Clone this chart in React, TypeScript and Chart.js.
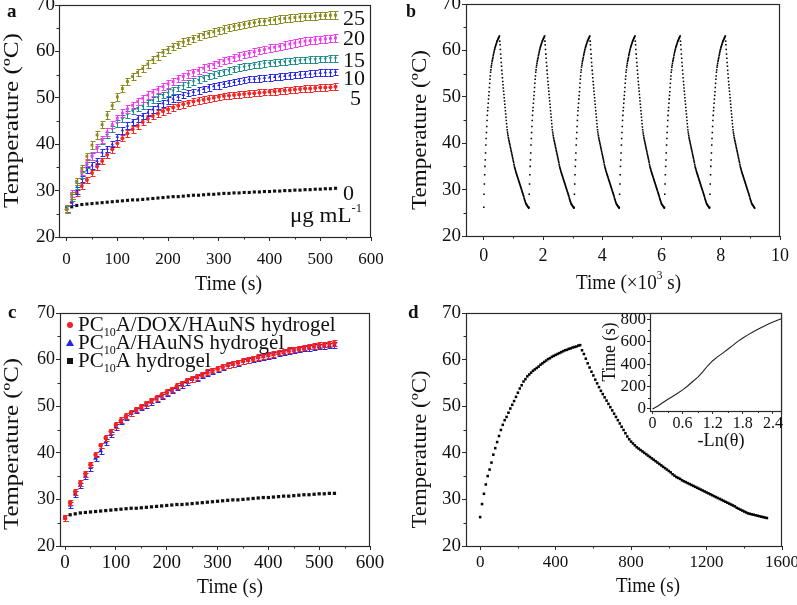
import React, { useEffect, useRef } from 'react';
import { Chart, registerables } from 'chart.js';

Chart.register(...registerables);

const FONT = "'Liberation Serif', 'Times New Roman', Times, serif";
const INK = '#111111';
const FRAME = '#2b2b2b';

// ---------------- tick values ----------------
const tempTicks = [20, 30, 40, 50, 60, 70];
const timeTicksAC = [0, 100, 200, 300, 400, 500, 600];
const timeTicksB = [0, 2, 4, 6, 8, 10];
const timeTicksD = [0, 400, 800, 1200, 1600];
const insetXTicks = [0, 0.6, 1.2, 1.8, 2.4];
const insetYTicks = [0, 200, 400, 600, 800];

// ---------------- Panel a : heating curves at several concentrations ----------------
const timesA = [0,10,20,30,40,50,60,70,80,90,100,110,120,130,140,150,160,170,180,190,200,210,220,230,240,250,260,270,280,290,300,310,320,330,340,350,360,370,380,390,400,410,420,430,440,450,460,470,480,490,500,510,520,530];
const concLabelsA = ['25', '20', '15', '10', '5', '0'];
const tempA25 = [26.0,29.0,32.0,34.8,37.4,39.8,42.0,44.2,46.3,48.3,50.2,52.0,53.5,54.6,55.5,56.3,57.3,58.2,59.0,59.8,60.4,61.0,61.5,62.0,62.4,62.8,63.2,63.6,63.9,64.2,64.5,64.8,65.1,65.4,65.6,65.8,66.0,66.2,66.4,66.5,66.7,66.8,67.0,67.1,67.2,67.3,67.4,67.5,67.5,67.6,67.7,67.7,67.8,67.8];
const tempA20 = [26.0,29.4,31.9,34.2,36.0,37.5,39.2,41.0,42.6,44.2,45.6,46.7,47.6,48.4,49.2,49.9,50.6,51.2,51.8,52.4,53.0,53.5,54.1,54.6,55.1,55.5,55.9,56.4,56.8,57.2,57.6,58.0,58.3,58.7,59.0,59.3,59.6,59.9,60.2,60.4,60.7,60.9,61.1,61.4,61.6,61.8,62.0,62.2,62.3,62.5,62.6,62.7,62.8,62.9];
const tempA15 = [26.0,28.5,31.0,33.5,35.5,37.3,39.0,40.7,42.0,43.3,44.5,45.5,46.4,47.2,47.8,48.3,48.9,49.5,50.1,50.6,51.1,51.6,52.1,52.6,53.1,53.5,53.9,54.3,54.7,55.0,55.3,55.6,55.9,56.2,56.5,56.7,56.9,57.1,57.2,57.4,57.5,57.6,57.7,57.8,57.9,58.0,58.1,58.2,58.3,58.3,58.4,58.4,58.5,58.5];
const tempA10 = [26.0,27.5,30.0,32.5,34.4,35.4,36.4,38.2,39.0,40.0,41.6,43.0,44.0,44.8,45.5,46.1,46.8,47.5,48.2,48.8,49.4,49.8,50.2,50.6,51.0,51.3,51.6,51.9,52.2,52.5,52.7,53.0,53.2,53.4,53.6,53.8,54.0,54.1,54.2,54.3,54.4,54.5,54.6,54.7,54.8,54.9,55.0,55.1,55.2,55.3,55.4,55.5,55.5,55.6];
const tempA5 = [26.0,27.5,29.5,31.0,32.3,33.8,35.2,36.4,37.7,38.9,40.2,41.3,42.3,43.2,44.0,44.8,45.5,46.1,46.6,47.1,47.5,47.9,48.3,48.6,48.9,49.2,49.4,49.6,49.8,50.0,50.2,50.4,50.5,50.6,50.7,50.8,50.9,51.0,51.1,51.2,51.3,51.4,51.5,51.6,51.7,51.8,51.9,52.0,52.0,52.1,52.2,52.2,52.3,52.4];
const tempA0 = [26.2,26.5,26.8,27.0,27.1,27.2,27.3,27.4,27.5,27.6,27.7,27.8,27.9,28.0,28.0,28.1,28.2,28.3,28.4,28.5,28.6,28.7,28.7,28.8,28.9,29.0,29.0,29.1,29.2,29.2,29.3,29.4,29.4,29.5,29.5,29.6,29.6,29.7,29.7,29.8,29.8,29.9,29.9,30.0,30.0,30.1,30.1,30.2,30.2,30.3,30.3,30.4,30.4,30.5];
const errorsA = [0.8, 0.8, 0.7, 0.7, 0.7, 0];

// ---------------- Panel c : three hydrogels ----------------
const timesC = timesA;
const legendC = ['PC10A/DOX/HAuNS hydrogel', 'PC10A/HAuNS hydrogel', 'PC10A hydrogel'];
const tempCDox = [26.0,29.3,31.6,33.5,35.5,37.5,39.6,41.6,43.2,44.6,46.0,47.0,47.9,48.6,49.3,49.9,50.6,51.2,51.8,52.4,53.0,53.6,54.3,54.9,55.5,55.9,56.3,56.8,57.3,57.7,58.1,58.5,58.8,59.1,59.4,59.7,59.9,60.2,60.5,60.8,61.0,61.2,61.5,61.7,62.0,62.2,62.4,62.6,62.8,62.9,63.1,63.2,63.4,63.5];
const tempCHau = [26.0,28.8,31.2,33.0,35.0,36.8,38.8,40.4,42.3,43.9,45.6,46.7,47.6,48.4,49.1,49.7,50.3,50.9,51.5,52.1,52.8,53.4,54.0,54.6,55.2,55.7,56.1,56.6,57.1,57.5,58.0,58.4,58.7,59.0,59.3,59.6,59.8,60.1,60.4,60.6,60.8,61.0,61.3,61.5,61.8,62.0,62.2,62.4,62.5,62.7,62.8,62.9,63.0,63.1];
const tempCGel = [26.2,26.7,26.9,27.1,27.2,27.3,27.4,27.5,27.6,27.7,27.8,27.9,28.0,28.1,28.1,28.2,28.3,28.4,28.5,28.6,28.7,28.8,28.9,28.9,29.0,29.1,29.2,29.3,29.4,29.5,29.6,29.7,29.8,29.9,29.9,30.0,30.1,30.2,30.3,30.4,30.4,30.5,30.6,30.7,30.7,30.8,30.9,31.0,31.0,31.1,31.2,31.2,31.3,31.3];
const errorsC = [0.6, 0.6, 0];

// ---------------- Panel d : one heating / cooling cycle (10 s sampling) ----------------
const sampleStepD = 10;
const heatTempsD = [26.2,29.0,31.2,33.2,35.0,36.4,37.9,39.6,41.0,42.3,43.6,44.9,46.0,47.0,47.7,48.6,49.5,50.3,51.1,52.0,52.9,53.8,54.5,55.3,55.8,56.4,56.8,57.2,57.6,57.9,58.2,58.5,58.9,59.2,59.5,59.8,60.1,60.3,60.6,60.8,61.0,61.2,61.4,61.6,61.8,62.0,62.1,62.3,62.4,62.6,62.7,62.8,63.0,63.1];
const coolTempsD = [62.0,61.2,60.2,59.2,58.3,57.4,56.6,55.7,54.9,54.1,53.3,52.6,51.9,51.2,50.5,49.8,49.1,48.4,47.7,47.0,46.3,45.6,44.9,44.2,43.5,42.9,42.4,42.0,41.6,41.2,40.9,40.6,40.3,40.0,39.7,39.4,39.1,38.8,38.5,38.2,37.9,37.6,37.3,37.0,36.7,36.4,36.1,35.8,35.4,35.1,34.8,34.6,34.4,34.1,33.9,33.7,33.5,33.3,33.1,32.9,32.7,32.5,32.3,32.1,31.9,31.7,31.5,31.3,31.1,30.9,30.7,30.5,30.3,30.1,29.9,29.7,29.5,29.3,29.1,28.9,28.7,28.5,28.2,28.0,27.8,27.6,27.4,27.2,27.0,26.9,26.8,26.7,26.6,26.5,26.4,26.3,26.2,26.1,26.0];

// inset of d : time vs -ln(theta)
const insetLnTheta = [0,0.1,0.2,0.3,0.4,0.5,0.6,0.7,0.8,0.9,1.0,1.1,1.2,1.3,1.4,1.5,1.6,1.7,1.8,1.9,2.0,2.1,2.2,2.3,2.4,2.5,2.57];
const insetTime = [0,25,55,85,112,140,170,205,245,282,330,385,430,466,498,532,567,602,632,660,686,710,732,754,774,792,804];

// ---------------- Panel b : six on/off cycles (x in 10^3 s) ----------------
const cycleStartsB = [0, 1.525, 3.05, 4.575, 6.1, 7.625];

// ---------------- derived tables ----------------
const cycleTempsD = [...heatTempsD, ...coolTempsD];
const pointsD = cycleTempsD.map((v, i) => ({ x: i * sampleStepD, y: v }));
const pointsB = cycleStartsB.flatMap((s) => cycleTempsD.map((v, i) => ({ x: s + (i * sampleStepD) / 1000, y: v })));
const xy = (xs: number[], ys: number[]) => ys.map((v, i) => ({ x: xs[i], y: v }));

type Part = { t: string; s: number; dy?: number; bold?: boolean };
type TextSpec = { parts: Part[]; x: number; y: number; align?: 'left' | 'center'; rot?: boolean; width?: number };

const fontOf = (p: Part) => `${p.bold ? 'bold ' : ''}${p.s}px ${FONT}`;

function drawRich(ctx: CanvasRenderingContext2D, spec: TextSpec, ox: number, oy: number) {
  ctx.save();
  ctx.fillStyle = INK;
  ctx.textBaseline = 'alphabetic';
  ctx.textAlign = 'left';
  const widths = spec.parts.map((p) => {
    ctx.font = fontOf(p);
    return ctx.measureText(p.t).width;
  });
  const total = widths.reduce((a, b) => a + b, 0);
  const sx = spec.width ? spec.width / total : 1;
  ctx.translate(spec.x - ox, spec.y - oy);
  if (spec.rot) ctx.rotate(-Math.PI / 2);
  ctx.scale(sx, 1);
  let cx = spec.align === 'center' ? -total / 2 : 0;
  spec.parts.forEach((p, i) => {
    ctx.font = fontOf(p);
    ctx.fillText(p.t, cx, p.dy || 0);
    cx += widths[i];
  });
  ctx.restore();
}

function drawMarker(ctx: CanvasRenderingContext2D, style: string, x: number, y: number, color: string) {
  ctx.save();
  ctx.fillStyle = color;
  ctx.beginPath();
  if (style === 'circle') ctx.arc(x, y, 3, 0, Math.PI * 2);
  else if (style === 'triangle') {
    ctx.moveTo(x, y - 4);
    ctx.lineTo(x + 4, y + 3);
    ctx.lineTo(x - 4, y + 3);
    ctx.closePath();
  } else ctx.rect(x - 3, y - 3, 6, 6);
  ctx.fill();
  ctx.restore();
}

type Panel = {
  x: number; y: number; w: number; h: number;
  area: { l: number; t: number; r: number; b: number };
  xr: [number, number]; yr: [number, number];
  xTicks: number[]; yTicks: number[];
  xFont: number; yFont: number; xPad: number; yPad: number;
  tick: number; minor: number;
  datasets: any[];
  texts: TextSpec[];
  legend?: { y: number; style: string; color: string; label: string }[];
  white?: boolean;
};

function splitSub(label: string): Part[] {
  const m = label.match(/^(PC)(10)(.*)$/);
  if (!m) return [{ t: label, s: 21 }];
  return [{ t: m[1], s: 21 }, { t: m[2], s: 12, dy: 5 }, { t: m[3], s: 21 }];
}

function decoPlugin(p: Panel) {
  return {
    id: 'deco',
    beforeDraw(chart: any) {
      if (!p.white) return;
      const a = chart.chartArea;
      const ctx = chart.ctx;
      ctx.save();
      ctx.fillStyle = '#ffffff';
      ctx.fillRect(a.left, a.top, a.right - a.left, a.bottom - a.top);
      ctx.restore();
    },
    beforeDatasetDraw(chart: any, args: any) {
      const ds = chart.data.datasets[args.index];
      if (!ds.errors) return;
      const ctx = chart.ctx;
      const ys = chart.scales.y;
      ctx.save();
      ctx.strokeStyle = ds.backgroundColor;
      ctx.lineWidth = 1;
      const cap = 2;
      args.meta.data.forEach((pt: any, j: number) => {
        const v = ds.data[j].y;
        const top = Math.round(ys.getPixelForValue(v + ds.errors)) + 0.5;
        const bot = Math.round(ys.getPixelForValue(v - ds.errors)) + 0.5;
        const x = Math.round(pt.x) + 0.5;
        ctx.beginPath();
        ctx.moveTo(x, top); ctx.lineTo(x, bot);
        ctx.moveTo(x - cap, top); ctx.lineTo(x + cap + 1, top);
        ctx.moveTo(x - cap, bot); ctx.lineTo(x + cap + 1, bot);
        ctx.stroke();
      });
      ctx.restore();
    },
    afterDraw(chart: any) {
      const ctx = chart.ctx as CanvasRenderingContext2D;
      const a = chart.chartArea;
      ctx.save();
      ctx.strokeStyle = FRAME;
      ctx.lineWidth = 1.2;
      ctx.strokeRect(Math.round(a.left) + 0.5, Math.round(a.top) + 0.5, Math.round(a.right - a.left) - 1, Math.round(a.bottom - a.top));
      // minor ticks halfway between labelled ticks
      ctx.lineWidth = 1;
      const xs = chart.scales.x, ys = chart.scales.y;
      const mids = (v: number[]) => {
        const out: number[] = [];
        for (let i = 0; i < v.length - 1; i++) out.push((v[i] + v[i + 1]) / 2);
        return out;
      };
      ctx.beginPath();
      mids(p.xTicks).forEach((m) => {
        const px = Math.round(xs.getPixelForValue(m)) + 0.5;
        ctx.moveTo(px, a.bottom); ctx.lineTo(px, a.bottom + p.minor);
      });
      mids(p.yTicks).forEach((m) => {
        const py = Math.round(ys.getPixelForValue(m)) + 0.5;
        ctx.moveTo(a.left, py); ctx.lineTo(a.left - p.minor, py);
      });
      ctx.stroke();
      ctx.restore();
      p.texts.forEach((t) => drawRich(ctx, t, p.x, p.y));
      if (p.legend) {
        p.legend.forEach((e) => {
          drawMarker(ctx, e.style, 70 - p.x, e.y - 6 - p.y, e.color);
          drawRich(ctx, { parts: splitSub(e.label), x: 78, y: e.y }, p.x, p.y);
        });
      }
    },
  };
}

function buildConfig(p: Panel): any {
  const padTop = p.area.t - p.y;
  const padRight = p.x + p.w - p.area.r;
  const yw = p.area.l - p.x;
  const xh = p.y + p.h - p.area.b;
  const grid = { display: true, drawOnChartArea: false, drawTicks: true, tickLength: p.tick, color: FRAME, lineWidth: 1 };
  return {
    type: 'scatter',
    data: { datasets: p.datasets },
    options: {
      responsive: false,
      animation: false,
      events: [],
      layout: { padding: { top: padTop, right: padRight, left: 0, bottom: 0 } },
      plugins: { legend: { display: false }, tooltip: { enabled: false } },
      scales: {
        x: {
          type: 'linear', min: p.xr[0], max: p.xr[1],
          afterBuildTicks: (s: any) => { s.ticks = p.xTicks.map((v) => ({ value: v })); },
          afterFit: (s: any) => { s.height = xh; s.paddingLeft = 0; s.paddingRight = 0; },
          ticks: { autoSkip: false, maxRotation: 0, minRotation: 0, padding: p.xPad, color: INK, font: { family: FONT, size: p.xFont }, callback: (v: any) => String(v) },
          grid, border: { display: false },
        },
        y: {
          type: 'linear', min: p.yr[0], max: p.yr[1],
          afterBuildTicks: (s: any) => { s.ticks = p.yTicks.map((v) => ({ value: v })); },
          afterFit: (s: any) => { s.width = yw; s.paddingTop = 0; s.paddingBottom = 0; },
          ticks: { autoSkip: false, padding: p.yPad, color: INK, font: { family: FONT, size: p.yFont }, callback: (v: any) => String(v) },
          grid, border: { display: false },
        },
      },
    },
    plugins: [decoPlugin(p)],
  };
}

const colA = ['#8a8a1e', '#ee3cee', '#1e8c8c', '#2a2aee', '#f02828', '#111111'];
const stylesA = ['rect', 'rect', 'triangle', 'triangle', 'circle', 'rect'];
const seriesA = [tempA25, tempA20, tempA15, tempA10, tempA5, tempA0];
const colC = ['#f52020', '#2424e6', '#111111'];
const stylesC = ['circle', 'triangle', 'rect'];
const seriesC = [tempCDox, tempCHau, tempCGel];

const yTitle = (x: number, y: number, width: number): TextSpec => ({ parts: [{ t: 'Temperature (ºC)', s: 22 }], x, y, rot: true, align: 'center', width });

const PANELS: Panel[] = [
  {
    x: 0, y: 0, w: 398, h: 302, area: { l: 59, t: 5, r: 371, b: 237 },
    xr: [-15, 600], yr: [20, 70], xTicks: timeTicksAC, yTicks: tempTicks,
    xFont: 17, yFont: 19, xPad: 8, yPad: 0, tick: 4, minor: 2.5,
    datasets: seriesA.map((s, i) => ({
      data: xy(timesA, s), backgroundColor: colA[i], borderColor: colA[i], pointStyle: stylesA[i],
      pointRotation: i === 2 ? 180 : 0, pointRadius: i === 5 ? 2.2 : 2, pointBorderWidth: 0,
      errors: errorsA[i] > 0 ? errorsA[i] : undefined,
    })),
    texts: [
      { parts: [{ t: 'a', s: 19, bold: true }], x: 7, y: 17 },
      yTitle(18, 120.5, 175),
      { parts: [{ t: 'Time (s)', s: 20 }], x: 228.5, y: 290, align: 'center', width: 67 },
      { parts: [{ t: concLabelsA[0], s: 22 }], x: 343, y: 25 },
      { parts: [{ t: concLabelsA[1], s: 22 }], x: 343, y: 45 },
      { parts: [{ t: concLabelsA[2], s: 22 }], x: 343, y: 66.5 },
      { parts: [{ t: concLabelsA[3], s: 22 }], x: 343, y: 85 },
      { parts: [{ t: concLabelsA[4], s: 22 }], x: 350, y: 105 },
      { parts: [{ t: concLabelsA[5], s: 22 }], x: 343, y: 200 },
      { parts: [{ t: 'μg mL', s: 22 }, { t: '-1', s: 12, dy: -10 }], x: 290, y: 222, width: 72 },
    ],
  },
  {
    x: 398, y: 0, w: 399, h: 302, area: { l: 466, t: 4, r: 780, b: 236 },
    xr: [-0.6, 10], yr: [20, 70], xTicks: timeTicksB, yTicks: tempTicks,
    xFont: 18, yFont: 19, xPad: 5, yPad: 1, tick: 4, minor: 2.5,
    datasets: [{ data: pointsB, backgroundColor: '#000', borderColor: '#000', pointStyle: 'rect', pointRadius: 1.1, pointBorderWidth: 0 }],
    texts: [
      { parts: [{ t: 'b', s: 18, bold: true }], x: 406, y: 17 },
      yTitle(426, 130, 160),
      { parts: [{ t: 'Time (×10', s: 20 }, { t: '3', s: 12, dy: -10 }, { t: ' s)', s: 20 }], x: 628.5, y: 289, align: 'center', width: 105 },
    ],
  },
  {
    x: 0, y: 302, w: 398, h: 303, area: { l: 60, t: 313, r: 370, b: 546 },
    xr: [-10, 600], yr: [20, 70], xTicks: timeTicksAC, yTicks: tempTicks,
    xFont: 19, yFont: 18, xPad: 2, yPad: 1, tick: 4, minor: 2.5,
    datasets: seriesC.map((s, i) => ({
      data: xy(timesC, s), backgroundColor: colC[i], borderColor: colC[i], pointStyle: stylesC[i],
      pointRadius: i === 1 ? 2.8 : 2.3, pointBorderWidth: 0,
      errors: errorsC[i] > 0 ? errorsC[i] : undefined,
    })),
    texts: [
      { parts: [{ t: 'c', s: 19, bold: true }], x: 8, y: 318 },
      yTitle(18, 444, 172),
      { parts: [{ t: 'Time (s)', s: 20 }], x: 230, y: 593, align: 'center', width: 66 },
    ],
    legend: [
      { y: 331, style: stylesC[0], color: colC[0], label: legendC[0] },
      { y: 349, style: stylesC[1], color: colC[1], label: legendC[1] },
      { y: 367, style: stylesC[2], color: colC[2], label: legendC[2] },
    ],
  },
  {
    x: 398, y: 302, w: 399, h: 303, area: { l: 466, t: 313, r: 782, b: 546 },
    xr: [-75, 1600], yr: [20, 70], xTicks: timeTicksD, yTicks: tempTicks,
    xFont: 17, yFont: 19, xPad: 2, yPad: 1, tick: 4, minor: 2.5,
    datasets: [{ data: pointsD, backgroundColor: '#000', borderColor: '#000', pointStyle: 'rect', pointRadius: 1.8, pointBorderWidth: 0 }],
    texts: [
      { parts: [{ t: 'd', s: 19, bold: true }], x: 408, y: 318 },
      yTitle(426, 449.5, 158),
      { parts: [{ t: 'Time (s)', s: 20 }], x: 648, y: 592, align: 'center', width: 64 },
    ],
  },
  {
    x: 596, y: 302, w: 199, h: 150, area: { l: 650, t: 313, r: 782, b: 411 },
    xr: [-0.05, 2.58], yr: [-18, 855], xTicks: insetXTicks, yTicks: insetYTicks,
    xFont: 16, yFont: 17, xPad: 0, yPad: 1, tick: 3, minor: 2,
    white: true,
    datasets: [{ data: xy(insetLnTheta, insetTime), showLine: true, borderColor: '#222', backgroundColor: '#222', borderWidth: 1.1, pointRadius: 0 }],
    texts: [
      { parts: [{ t: 'Time (s)', s: 18 }], x: 615, y: 352, rot: true, align: 'center', width: 59 },
      { parts: [{ t: '-Ln(θ)', s: 18 }], x: 721, y: 446, align: 'center', width: 47 },
    ],
  },
];

export default function App() {
  const r0 = useRef<HTMLCanvasElement>(null);
  const r1 = useRef<HTMLCanvasElement>(null);
  const r2 = useRef<HTMLCanvasElement>(null);
  const r3 = useRef<HTMLCanvasElement>(null);
  const r4 = useRef<HTMLCanvasElement>(null);
  const refs = [r0, r1, r2, r3, r4];

  useEffect(() => {
    const charts = PANELS.map((p, i) => new Chart(refs[i].current as HTMLCanvasElement, buildConfig(p)));
    return () => charts.forEach((c) => c.destroy());
  }, []);

  return (
    <div style={{ position: 'absolute', left: 0, top: 0, width: 797, height: 605, background: '#ffffff', overflow: 'hidden' }}>
      {PANELS.map((p, i) => (
        <canvas
          key={i}
          ref={refs[i]}
          width={p.w}
          height={p.h}
          style={{ position: 'absolute', left: p.x, top: p.y, width: p.w, height: p.h }}
        />
      ))}
    </div>
  );
}
